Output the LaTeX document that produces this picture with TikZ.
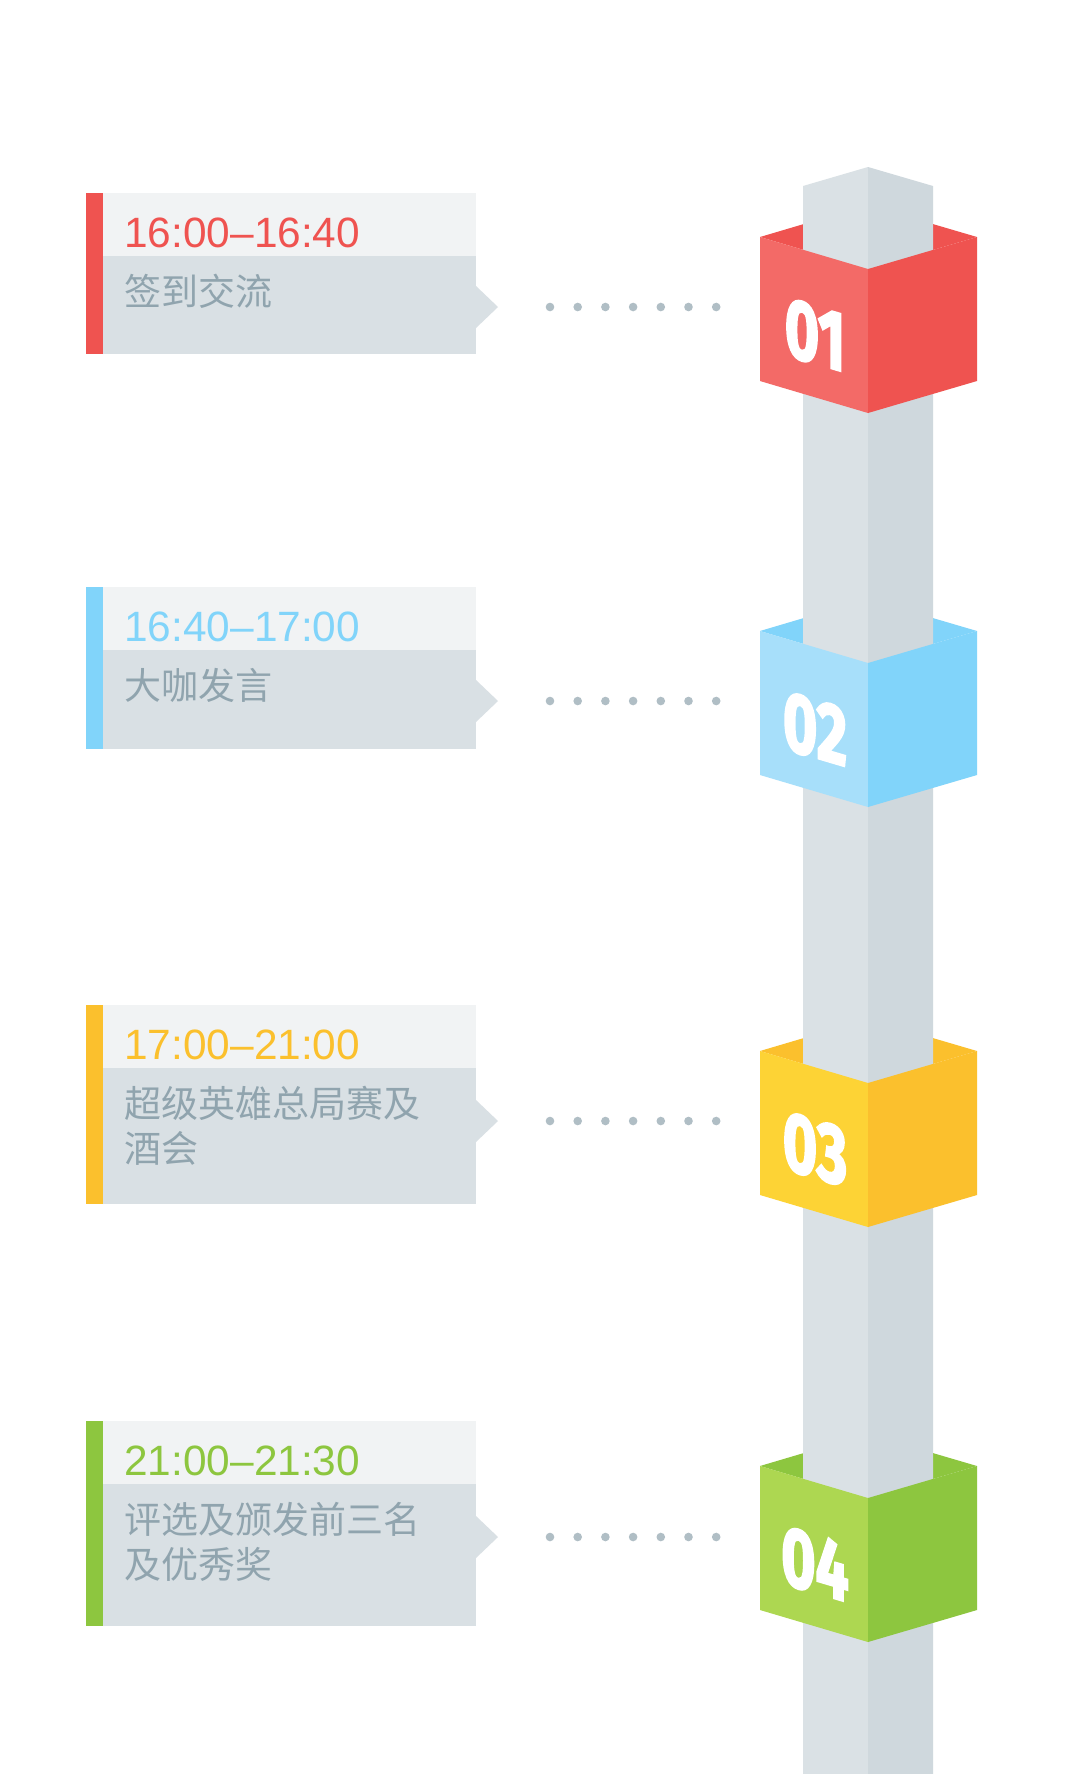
\documentclass[tikz,border=0pt]{standalone}
\usepackage{fontspec}
\usepackage{tikz}
\usetikzlibrary{positioning}
\newfontfamily\cjk{Noto Sans CJK SC}
\newfontfamily\timefont{Liberation Sans}
\newfontfamily\numfont[BoldFeatures={FakeBold=3}]{Fira Sans}
\definecolor{BandLight}{HTML}{F1F3F4}
\definecolor{CardGrey}{HTML}{D9E0E4}
\definecolor{ActGrey}{HTML}{90A4AE}
\definecolor{DotGrey}{HTML}{B0BEC5}
\definecolor{PillarL}{HTML}{DAE1E5}
\definecolor{PillarR}{HTML}{CFD8DD}
\definecolor{RedL}{HTML}{F36A67}
\definecolor{RedR}{HTML}{EF5350}
\definecolor{BlueL}{HTML}{A7DFFA}
\definecolor{BlueR}{HTML}{81D4FA}
\definecolor{YelL}{HTML}{FDD335}
\definecolor{YelR}{HTML}{FBC02D}
\definecolor{GreenL}{HTML}{ADD751}
\definecolor{GreenR}{HTML}{8DC63F}
% inner side of a cube seen over its front edge
\newcommand{\cubeback}[2]{\fill[#2] (760,#1-32) -- (868,#1-64) -- (977,#1-32) -- (868,#1) -- cycle;}
% the two front faces and the number
\newcommand{\cubefront}[5]{%
  \fill[#2] (760,#1-32) -- (868,#1) -- (868,#1+144) -- (760,#1+112) -- cycle;
  \fill[#3] (868,#1) -- (977,#1-32) -- (977,#1+112) -- (868,#1+144) -- cycle;
  \node[num] (#5) at (815,#1+66) {#4};}

\begin{document}
\begin{tikzpicture}[x=0.5pt, y=-0.5pt,
  band/.style={fill=BandLight},
  card/.style={fill=CardGrey},
  stime/.style={font=\timefont\fontsize{21.2}{24}\selectfont, anchor=base west, inner sep=0pt},
  sact/.style={font=\cjk\fontsize{18.5}{22.5}\selectfont, text=ActGrey, anchor=base west, align=left, inner sep=0pt},
  dots/.style={draw=DotGrey, line width=4.3pt, line cap=round, dash pattern=on 0pt off 13.85pt},
  num/.style={font=\numfont\bfseries\fontsize{42}{42}\selectfont, text=white, inner sep=0pt, yslant=-0.296, xscale=0.7},
]
\fill[white] (0,0) rectangle (1080,1774);
\useasboundingbox (0,0) rectangle (1080,1774);
% ---------------- pillar with the four cubes
\cubeback{269}{RedR}
\cubeback{663}{BlueR}
\cubeback{1083}{YelR}
\cubeback{1498}{GreenR}
\fill[PillarL] (803,186) -- (868,167) -- (868,1774) -- (803,1774) -- cycle;
\fill[PillarR] (868,167) -- (933,186) -- (933,1774) -- (868,1774) -- cycle;
\cubefront{269}{RedL}{RedR}{01}{N1}
\cubefront{663}{BlueL}{BlueR}{02}{N2}
\cubefront{1083}{YelL}{YelR}{03}{N3}
\cubefront{1498}{GreenL}{GreenR}{04}{N4}
% ---------------- item 1
\def\yt{193} \def\yb{354} \def\ya{307}
\fill[band] (103,\yt) rectangle (476,\yt+63);
\fill[card] (103,\yt+63) rectangle (476,\yb);
\fill[card] (476,\ya-21) -- (498,\ya) -- (476,\ya+21) -- cycle;
\fill[RedR] (86,\yt) rectangle (103,\yb);
\node[stime, text=RedR] (T1) at (124,\yt+54) {16:00–16:40};
\node[sact] (A1) at (124,\yt+112.5) {签到交流};
\coordinate (S1) at (550,\ya); \coordinate (E1) at (717,\ya);
\draw[dots] (S1) -- (E1);
% ---------------- item 2
\def\yt{587} \def\yb{749} \def\ya{701}
\fill[band] (103,\yt) rectangle (476,\yt+63);
\fill[card] (103,\yt+63) rectangle (476,\yb);
\fill[card] (476,\ya-21) -- (498,\ya) -- (476,\ya+21) -- cycle;
\fill[BlueR] (86,\yt) rectangle (103,\yb);
\node[stime, text=BlueR] (T2) at (124,\yt+54) {16:40–17:00};
\node[sact] (A2) at (124,\yt+112.5) {大咖发言};
\coordinate (S2) at (550,\ya); \coordinate (E2) at (717,\ya);
\draw[dots] (S2) -- (E2);
% ---------------- item 3 (two lines: base is the last line)
\def\yt{1005} \def\yb{1204} \def\ya{1121}
\fill[band] (103,\yt) rectangle (476,\yt+63);
\fill[card] (103,\yt+63) rectangle (476,\yb);
\fill[card] (476,\ya-21) -- (498,\ya) -- (476,\ya+21) -- cycle;
\fill[YelR] (86,\yt) rectangle (103,\yb);
\node[stime, text=YelR] (T3) at (124,\yt+54) {17:00–21:00};
\node[sact] (A3) at (124,\yt+157.5) {超级英雄总局赛及\\酒会};
\coordinate (S3) at (550,\ya); \coordinate (E3) at (717,\ya);
\draw[dots] (S3) -- (E3);
% ---------------- item 4
\def\yt{1421} \def\yb{1626} \def\ya{1537}
\fill[band] (103,\yt) rectangle (476,\yt+63);
\fill[card] (103,\yt+63) rectangle (476,\yb);
\fill[card] (476,\ya-21) -- (498,\ya) -- (476,\ya+21) -- cycle;
\fill[GreenR] (86,\yt) rectangle (103,\yb);
\node[stime, text=GreenR] (T4) at (124,\yt+54) {21:00–21:30};
\node[sact] (A4) at (124,\yt+157.5) {评选及颁发前三名\\及优秀奖};
\coordinate (S4) at (550,\ya); \coordinate (E4) at (717,\ya);
\draw[dots] (S4) -- (E4);
\end{tikzpicture}
\end{document}
